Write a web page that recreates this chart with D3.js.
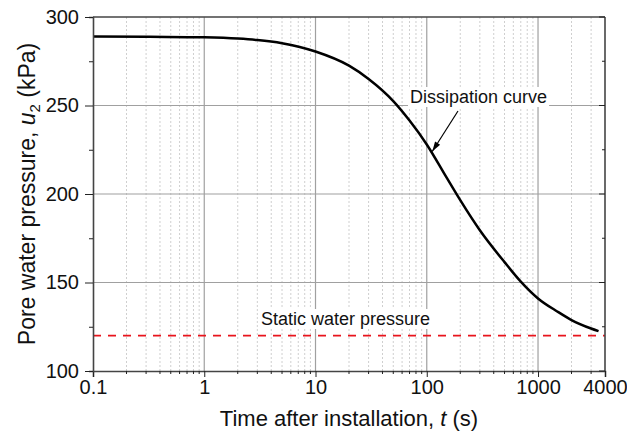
<!DOCTYPE html>
<html>
<head>
<meta charset="utf-8">
<script src="https://cdn.jsdelivr.net/npm/d3@7"></script>
<style>
  body { margin: 0; background: #fff; }
  text { font-family: "Liberation Sans", Arial, sans-serif; fill: #111; }
</style>
</head>
<body>
<div id="chart"></div>
<script>
// data (time in s, pore pressure in kPa)
var times = [0.1, 0.3, 1, 2, 3, 5, 10, 20, 30, 50, 70, 100, 150, 200, 300, 500, 700, 1000, 1500, 2000, 3000, 3500];
var pressures = [289, 288.9, 288.5, 287.8, 287, 285.2, 280.5, 272.5, 265, 252.5, 241.5, 228, 209.5, 196.5, 179.5, 161.5, 150.5, 141, 133.5, 128.8, 124, 122.5];
var staticPressure = 120;

var xTicks = [0.1, 1, 10, 100, 1000, 4000];
var xTickLabels = ["0.1", "1", "10", "100", "1000", "4000"];
var yTicks = [100, 150, 200, 250, 300];

var width = 627;
var height = 442;
var margin = {"top": 17, "bottom": 71, "left": 93, "right": 22};

var svg = d3.select("#chart")
  .append("svg")
  .attr("width", width)
  .attr("height", height);

var x = d3.scaleLog()
  .domain([0.1, 4000])
  .range([margin.left, width - margin.right]);

var y = d3.scaleLinear()
  .domain([100, 300])
  .range([height - margin.bottom, margin.top]);

// minor x positions: 2..9 of every decade, up to 3000
var xMinor = [];
[0.1, 1, 10, 100, 1000].forEach(function(d){
  for (var k = 2; k <= 9; k++) {
    if (d * k < 4000) xMinor.push(d * k);
  }
});
var yMinor = d3.range(100, 301, 25);

// minor vertical grid (dotted)
svg.append("g")
  .selectAll("line")
  .data(xMinor)
  .join("line")
  .attr("x1", function(d){ return x(d); })
  .attr("x2", function(d){ return x(d); })
  .attr("y1", y(300))
  .attr("y2", y(100))
  .attr("stroke", "#cfcfcf")
  .attr("stroke-width", 1)
  .attr("stroke-dasharray", "2,2");

// major grid
svg.append("g")
  .selectAll("line")
  .data([1, 10, 100, 1000])
  .join("line")
  .attr("x1", function(d){ return x(d); })
  .attr("x2", function(d){ return x(d); })
  .attr("y1", y(300))
  .attr("y2", y(100))
  .attr("stroke", "#a0a0a0")
  .attr("stroke-width", 1.2);

svg.append("g")
  .selectAll("line")
  .data(yTicks.slice(1, 4))
  .join("line")
  .attr("x1", x(0.1))
  .attr("x2", x(4000))
  .attr("y1", function(d){ return y(d); })
  .attr("y2", function(d){ return y(d); })
  .attr("stroke", "#a0a0a0")
  .attr("stroke-width", 1.2);

// static water pressure line
svg.append("line")
  .attr("x1", x(0.1))
  .attr("x2", x(4000))
  .attr("y1", y(staticPressure))
  .attr("y2", y(staticPressure))
  .attr("stroke", "#e8141c")
  .attr("stroke-width", 1.7)
  .attr("stroke-dasharray", "8,7");

// dissipation curve
var line = d3.line()
  .x(function(d){ return x(d[0]); })
  .y(function(d){ return y(d[1]); })
  .curve(d3.curveMonotoneX);

svg.append("path")
  .datum(d3.zip(times, pressures))
  .attr("fill", "none")
  .attr("stroke", "#000")
  .attr("stroke-width", 2.5)
  .attr("d", line);

// axes
var xAxis = svg.append("g")
  .attr("transform", "translate(0," + y(100) + ")")
  .call(d3.axisBottom(x).tickValues(xTicks).tickFormat(function(d, i){ return xTickLabels[i]; }).tickSize(6).tickPadding(3));
xAxis.append("g")
  .selectAll("line")
  .data(xMinor)
  .join("line")
  .attr("x1", function(d){ return x(d); })
  .attr("x2", function(d){ return x(d); })
  .attr("y2", 3)
  .attr("stroke", "#222");

var yAxis = svg.append("g")
  .attr("transform", "translate(" + x(0.1) + ",0)")
  .call(d3.axisLeft(y).tickValues(yMinor).tickFormat(function(d){ return d % 50 == 0 ? d : ""; }).tickSize(4).tickPadding(10));
yAxis.selectAll(".tick line")
  .attr("x2", function(d){ return d % 50 == 0 ? -8 : -4; });

[xAxis, yAxis].forEach(function(a){
  a.select(".domain").attr("stroke", "#444").attr("stroke-width", 1.6);
  a.selectAll(".tick line").attr("stroke", "#222");
  a.selectAll("text").attr("font-size", 20).attr("fill", "#111")
    .style("font-family", "'Liberation Sans', Arial, sans-serif");
});

// top and right frame with inner ticks
svg.append("line")
  .attr("x1", x(0.1)).attr("x2", x(4000))
  .attr("y1", y(300)).attr("y2", y(300))
  .attr("stroke", "#444").attr("stroke-width", 1.6);
svg.append("line")
  .attr("x1", x(4000)).attr("x2", x(4000))
  .attr("y1", y(300)).attr("y2", y(100))
  .attr("stroke", "#444").attr("stroke-width", 1.6);
svg.append("g")
  .selectAll("line")
  .data(yMinor)
  .join("line")
  .attr("x1", x(4000))
  .attr("x2", function(d){ return x(4000) - (d % 50 == 0 ? 6 : 3); })
  .attr("y1", function(d){ return y(d); })
  .attr("y2", function(d){ return y(d); })
  .attr("stroke", "#222");

// annotations with white boxes behind the text
function label(txt, tx, ty){
  var g = svg.append("g");
  var r = g.append("rect").attr("fill", "#fff");
  var t = g.append("text")
    .attr("x", tx)
    .attr("y", ty)
    .attr("font-size", 18)
    .text(txt);
  var b = t.node().getBBox();
  r.attr("x", b.x - 2).attr("y", b.y)
    .attr("width", b.width + 4).attr("height", b.height);
}
label("Dissipation curve", 410, 103);
label("Static water pressure", 261, 325);

// arrow to the curve
var tip = [x(112), y(224)];
var start = [458, 111];
svg.append("line")
  .attr("x1", start[0]).attr("y1", start[1])
  .attr("x2", tip[0]).attr("y2", tip[1])
  .attr("stroke", "#000").attr("stroke-width", 1.2);
var ang = Math.atan2(tip[1] - start[1], tip[0] - start[0]);
var hl = 10, hw = 3;
svg.append("path")
  .attr("d", "M" + tip[0] + "," + tip[1] +
    "L" + (tip[0] - hl * Math.cos(ang) + hw * Math.sin(ang)) + "," + (tip[1] - hl * Math.sin(ang) - hw * Math.cos(ang)) +
    "L" + (tip[0] - hl * Math.cos(ang) - hw * Math.sin(ang)) + "," + (tip[1] - hl * Math.sin(ang) + hw * Math.cos(ang)) + "Z")
  .attr("fill", "#000");

// axis titles
var xt = svg.append("text")
  .attr("x", (x(0.1) + x(4000)) / 2)
  .attr("y", 426)
  .attr("text-anchor", "middle")
  .attr("font-size", 22);
xt.append("tspan").text("Time after installation, ");
xt.append("tspan").attr("font-style", "italic").text("t");
xt.append("tspan").text(" (s)");

var yt = svg.append("text")
  .attr("transform", "translate(35," + (y(200)) + ") rotate(-90)")
  .attr("text-anchor", "middle")
  .attr("font-size", 23);
yt.append("tspan").text("Pore water pressure, ");
yt.append("tspan").attr("font-style", "italic").text("u");
yt.append("tspan").attr("font-size", 15).attr("dy", 5).text("2");
yt.append("tspan").attr("dy", -5).text(" (kPa)");
</script>
</body>
</html>
